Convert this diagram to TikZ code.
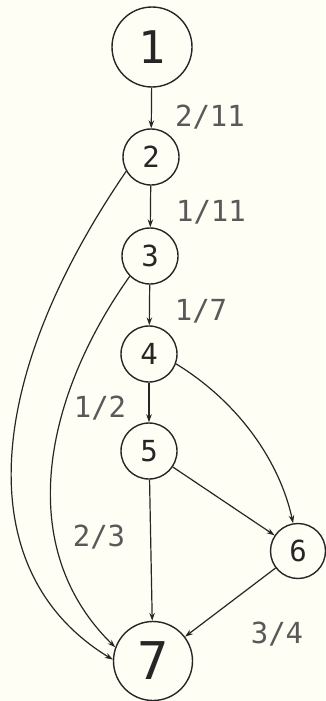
\documentclass[tikz,border=0pt]{standalone}
\usepackage{fontspec}
\newfontfamily\plotfont{DejaVu Sans Mono}
\usetikzlibrary{arrows.meta}
\definecolor{paper}{HTML}{FEFEF4}
\definecolor{ink}{HTML}{262626}
\definecolor{labink}{HTML}{595959}
\tikzset{
  vertex/.style={circle,draw=ink,line width=1.4pt,inner sep=0pt,minimum size=56pt,
    text=ink,font=\plotfont\fontsize{29}{29}\selectfont},
  bigvertex/.style={vertex,minimum size=80pt},
  edge/.style={draw=ink,line width=1.2pt,-{Stealth[length=8pt,width=5.5pt]}},
  elabel/.style={text=labink,font=\plotfont\fontsize{29}{29}\selectfont,inner sep=0pt}
}
\begin{document}
\begin{tikzpicture}[x=1pt,y=-1pt]
\fill[paper] (0,0) rectangle (325,701);
\useasboundingbox (0,0) rectangle (325,701);
\node[bigvertex,font=\plotfont\fontsize{45}{45}\selectfont] (n1) at (152,47) {1};
\node[vertex] (n2) at (151,157) {2};
\node[vertex] (n3) at (150,256) {3};
\node[vertex] (n4) at (149,354) {4};
\node[vertex] (n5) at (149,451) {5};
\node[vertex,minimum size=55pt] (n6) at (298,551) {6};
\node[bigvertex,minimum size=79pt,font=\plotfont\fontsize{52}{52}\selectfont] (n7) at (153,661) {7};
% edges
\draw[edge] (n1) -- (n2);
\draw[edge] (n2) -- (n3);
\draw[edge] (n3) -- (n4);
\draw[edge] (n4) -- (n5);
\draw[edge] (n5) -- (n7);
\draw[edge] (n5) -- (n6);
\draw[edge] (n6) -- (n7);
\draw[edge] (n2.210) .. controls (-20,385) and (-28,574) .. (n7.178);
\draw[edge] (n3.225) .. controls (44,397) and (13,547) .. (n7.160);
\draw[edge] (n4.-20) .. controls (240,403) and (280,463) .. (n6.100);
% labels
\node[elabel] (l12) at (210,117) {2/11};
\node[elabel] (l23) at (211,212) {1/11};
\node[elabel] (l34) at (201,311) {1/7};
\node[elabel] (l45) at (100,408) {1/2};
\node[elabel] (l57) at (99,537) {2/3};
\node[elabel] (l67) at (277,634) {3/4};
\end{tikzpicture}
\end{document}
